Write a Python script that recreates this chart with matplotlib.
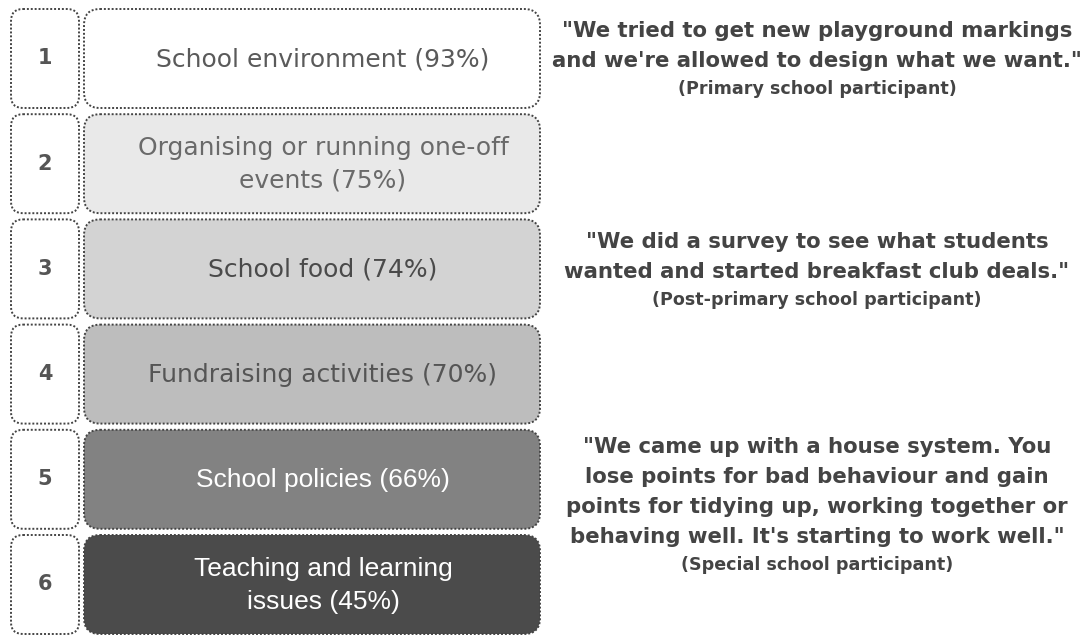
import numpy as np
import matplotlib.pyplot as plt
from matplotlib.patches import FancyBboxPatch

ranks = [1, 2, 3, 4, 5, 6]
topics = ["School environment", "Organising or running one-off\nevents",
          "School food", "Fundraising activities", "School policies",
          "Teaching and learning\nissues"]
shares = [93, 75, 74, 70, 66, 45]
fills = ["#ffffff", "#e9e9e9", "#d3d3d3", "#bdbdbd", "#828282", "#4b4b4b"]
text_cols = ["#5a5a5a", "#6a6a6a", "#4a4a4a", "#555555", "#ffffff", "#ffffff"]

quotes = ['"We tried to get new playground markings\nand we\'re allowed to design what we want."',
          '"We did a survey to see what students\nwanted and started breakfast club deals."',
          '"We came up with a house system. You\nlose points for bad behaviour and gain\npoints for tidying up, working together or\nbehaving well. It\'s starting to work well."']
sources = ["(Primary school participant)", "(Post-primary school participant)",
           "(Special school participant)"]
quote_mid = [46, 257, 492]

fig = plt.figure(figsize=(10.88, 6.37), dpi=100)
ax = fig.add_axes([0, 0, 1, 1])
ax.set_xlim(0, 1088)
ax.set_ylim(637, 0)
ax.axis('off')

top0, step, h = 9, 105.2, 99
for i, (r, t, s) in enumerate(zip(ranks, topics, shares)):
    y = top0 + i * step
    # number box
    ax.add_patch(FancyBboxPatch((11, y), 68, h, boxstyle="round,pad=0,rounding_size=12",
                                fc="white", ec="#444444", lw=1.4, ls=(0, (1, 1))))
    ax.text(45, y + h / 2, str(r), ha='center', va='center', fontsize=15,
            fontweight='bold', color='#555555')
    # topic box
    ax.add_patch(FancyBboxPatch((84, y), 456, h, boxstyle="round,pad=0,rounding_size=16",
                                fc=fills[i], ec="#444444", lw=1.4, ls=(0, (1, 1))))
    if i >= 4:
        fam, fs = 'Liberation Sans', 19
    else:
        fam, fs = 'DejaVu Sans', 18
    ax.text(323, y + h / 2 + 1, "%s (%d%%)" % (t, s), ha='center', va='center',
            fontsize=fs, family=fam, color=text_cols[i], linespacing=1.45)

for q, src, yc in zip(quotes, sources, quote_mid):
    n = q.count("\n") + 1
    ax.text(817, yc, q, ha='center', va='center', fontsize=15.3, fontweight='bold',
            color='#444444', linespacing=1.62)
    ax.text(817, yc + (n - 1) / 2 * 30 + 28, src, ha='center', va='center',
            fontsize=12.6, fontweight='bold', color='#444444')

fig.savefig('out.png', dpi=100)
